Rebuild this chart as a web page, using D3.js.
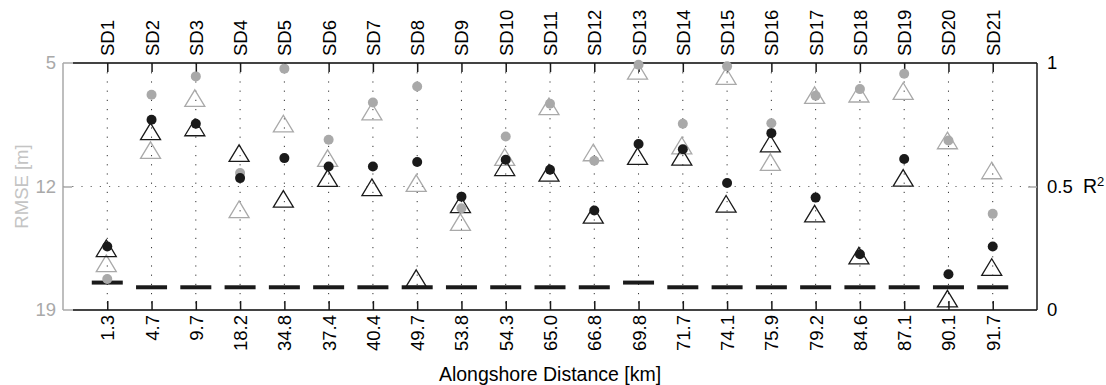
<!DOCTYPE html>
<html>
<head>
<meta charset="utf-8">
<script src="https://cdn.jsdelivr.net/npm/d3@7"></script>
<style>
  html, body { margin: 0; padding: 0; background: #fff; }
  svg { display: block; font-family: "Liberation Sans", Arial, Helvetica, sans-serif; }
</style>
</head>
<body>
<script>
// ---- data ----
const categories = ["SD1","SD2","SD3","SD4","SD5","SD6","SD7","SD8","SD9","SD10","SD11","SD12","SD13","SD14","SD15","SD16","SD17","SD18","SD19","SD20","SD21"];
const distances = ["1.3","4.7","9.7","18.2","34.8","37.4","40.4","49.7","53.8","54.3","65.0","66.8","69.8","71.7","74.1","75.9","79.2","84.6","87.1","90.1","91.7"];
// RMSE [m] (left axis, gray)
const rmseCircle   = [17.24,6.80,5.76,11.24,5.32,9.35,7.24,6.33,13.23,9.17,7.31,10.54,5.10,8.44,5.19,8.41,6.86,6.48,5.61,9.39,13.55];
const rmseTriangle = [16.35,9.94,6.99,13.29,8.43,10.39,7.75,11.81,14.02,10.33,7.46,10.07,5.44,9.68,5.74,10.62,6.82,6.74,6.59,9.39,11.09];
// R^2 (right axis, black)
const r2Circle   = [0.257,0.770,0.754,0.534,0.615,0.581,0.581,0.599,0.459,0.608,0.568,0.403,0.672,0.651,0.514,0.716,0.455,0.226,0.611,0.145,0.257];
const r2Triangle = [0.250,0.723,0.739,0.635,0.450,0.534,0.497,0.129,0.428,0.578,0.555,0.385,0.623,0.620,0.430,0.674,0.390,0.220,0.535,0.046,0.174];
const r2Threshold = [0.111,0.092,0.092,0.092,0.092,0.092,0.092,0.092,0.092,0.092,0.092,0.092,0.111,0.092,0.092,0.092,0.092,0.092,0.092,0.092,0.092];
const rmseTicks = [5, 12, 19];
const r2Ticks = [0, 0.5, 1];

// ---- layout ----
const W = 1106, H = 385;
const m = {left: 63, right: 69, top: 63, bottom: 75};
const x0 = m.left, x1 = W - m.right, yTop = m.top, yBot = H - m.bottom;
const GRAY = "#a9a9a9", BLACK = "#1a1a1a";
const FS = 18.5;

const svg = d3.select("body").append("svg").attr("width", W).attr("height", H);

const x = d3.scalePoint().domain(categories).range([x0, x1]).padding(1);
const yL = d3.scaleLinear().domain([5, 19]).range([yTop, yBot]);
const yR = d3.scaleLinear().domain([0, 1]).range([yBot, yTop]);

// grid
const grid = svg.append("g");
grid.selectAll("line.v").data(categories).join("line")
  .attr("x1", d => x(d)).attr("x2", d => x(d)).attr("y1", yTop).attr("y2", yBot)
  .attr("stroke", "#333").attr("stroke-width", 1).attr("stroke-dasharray", "1.2,8");
grid.append("line")
  .attr("x1", x0).attr("x2", x1).attr("y1", yL(12)).attr("y2", yL(12))
  .attr("stroke", "#666").attr("stroke-width", 1).attr("stroke-dasharray", "1.2,8");

// box lines
svg.append("line").attr("x1", x0).attr("x2", x1).attr("y1", yTop).attr("y2", yTop).attr("stroke", GRAY).attr("stroke-width", 1.5);
svg.append("line").attr("x1", x0).attr("x2", x1).attr("y1", yBot).attr("y2", yBot).attr("stroke", GRAY).attr("stroke-width", 1.5);
svg.append("line").attr("x1", x0 + 10).attr("x2", x1).attr("y1", yTop).attr("y2", yTop).attr("stroke", BLACK).attr("stroke-width", 1.5);
svg.append("line").attr("x1", x0 + 10).attr("x2", x1).attr("y1", yBot).attr("y2", yBot).attr("stroke", BLACK).attr("stroke-width", 1.5);
svg.append("line").attr("x1", x1).attr("x2", x1).attr("y1", yTop).attr("y2", yBot).attr("stroke", BLACK).attr("stroke-width", 1.5);
svg.append("line").attr("x1", x0).attr("x2", x0).attr("y1", yTop).attr("y2", yBot).attr("stroke", GRAY).attr("stroke-width", 1.5);

// top axis (station names)
const topAx = svg.append("g").attr("transform", `translate(0,${yTop})`)
  .call(d3.axisTop(x).tickSize(-9).tickPadding(0));
topAx.select(".domain").remove();
topAx.selectAll(".tick line").attr("stroke", BLACK).attr("stroke-width", 1.5);
topAx.selectAll(".tick text")
  .attr("transform", "translate(0,-7) rotate(-90)")
  .attr("x", 0).attr("y", 0).attr("dy", "0.35em")
  .attr("text-anchor", "start")
  .style("font-size", FS + "px").style("font-family", "Liberation Sans, Arial, sans-serif").attr("fill", "#000");

// bottom axis (distances)
const botAx = svg.append("g").attr("transform", `translate(0,${yBot})`)
  .call(d3.axisBottom(x).tickSize(-9).tickFormat((d, i) => distances[i]));
botAx.select(".domain").remove();
botAx.selectAll(".tick line").attr("stroke", BLACK).attr("stroke-width", 1.5);
botAx.selectAll(".tick text")
  .attr("transform", "translate(0,5) rotate(-90)")
  .attr("x", 0).attr("y", 0).attr("dy", "0.35em")
  .attr("text-anchor", "end")
  .style("font-size", FS + "px").style("font-family", "Liberation Sans, Arial, sans-serif").attr("fill", "#000");

// left axis (RMSE)
const leftAx = svg.append("g").attr("transform", `translate(${x0},0)`)
  .call(d3.axisLeft(yL).tickValues(rmseTicks).tickSize(0).tickPadding(7).tickFormat(d3.format("d")));
leftAx.select(".domain").remove();
leftAx.selectAll(".tick text").style("font-size", FS + "px").style("font-family", "Liberation Sans, Arial, sans-serif").attr("fill", GRAY);
svg.append("g").attr("transform", `translate(${x0},0)`)
  .call(d3.axisRight(yL).tickValues([12]).tickSize(9).tickFormat(""))
  .call(g => g.select(".domain").remove())
  .selectAll(".tick line").attr("stroke", GRAY).attr("stroke-width", 1.5);

// right axis (R^2)
const rightAx = svg.append("g").attr("transform", `translate(${x1},0)`)
  .call(d3.axisRight(yR).tickValues(r2Ticks).tickSize(0).tickPadding(10).tickFormat(d => d === 0.5 ? "0.5" : d3.format("d")(d)));
rightAx.select(".domain").remove();
rightAx.selectAll(".tick text").style("font-size", FS + "px").style("font-family", "Liberation Sans, Arial, sans-serif").attr("fill", "#000");
svg.append("g").attr("transform", `translate(${x1},0)`)
  .call(d3.axisLeft(yR).tickValues([0.5]).tickSize(9).tickFormat(""))
  .call(g => g.select(".domain").remove())
  .selectAll(".tick line").attr("stroke", GRAY).attr("stroke-width", 1.5);

// axis titles
svg.append("text")
  .attr("transform", `translate(28,${(yTop + yBot) / 2}) rotate(-90)`)
  .attr("text-anchor", "middle")
  .style("font-size", FS + "px").attr("fill", "#c4c4c4")
  .text("RMSE [m]");
const r2t = svg.append("text")
  .attr("x", 1083).attr("y", yR(0.5)).attr("dy", "0.35em")
  .style("font-size", "19.5px").attr("fill", "#000");
r2t.append("tspan").text("R");
r2t.append("tspan").attr("dy", "-0.55em").style("font-size", "13px").text("2");
svg.append("text")
  .attr("x", (x0 + x1) / 2).attr("y", 381)
  .attr("text-anchor", "middle")
  .style("font-size", "19.5px").attr("fill", "#000")
  .text("Alongshore Distance [km]");

// markers
const triPath = "M0,-8.3 L10,8.3 L-10,8.3 Z";
const marks = svg.append("g");

// threshold dashes
marks.selectAll("rect.thr").data(r2Threshold).join("rect")
  .attr("x", (d, i) => x(categories[i]) - 15.5).attr("y", d => yR(d) - 2)
  .attr("width", 31).attr("height", 4).attr("fill", BLACK);

// gray triangles (RMSE)
marks.selectAll("path.gt").data(rmseTriangle).join("path")
  .attr("d", triPath)
  .attr("transform", (d, i) => `translate(${x(categories[i]) - 1},${yL(d)})`)
  .attr("fill", "none").attr("stroke", GRAY).attr("stroke-width", 1.3);
// black triangles (R^2)
marks.selectAll("path.bt").data(r2Triangle).join("path")
  .attr("d", triPath)
  .attr("transform", (d, i) => `translate(${x(categories[i]) - 1},${yR(d)})`)
  .attr("fill", "none").attr("stroke", BLACK).attr("stroke-width", 1.3);
// gray circles (RMSE)
marks.selectAll("circle.gc").data(rmseCircle).join("circle")
  .attr("cx", (d, i) => x(categories[i])).attr("cy", d => yL(d)).attr("r", 5)
  .attr("fill", GRAY);
// black circles (R^2)
marks.selectAll("circle.bc").data(r2Circle).join("circle")
  .attr("cx", (d, i) => x(categories[i])).attr("cy", d => yR(d)).attr("r", 5)
  .attr("fill", BLACK);
</script>
</body>
</html>
